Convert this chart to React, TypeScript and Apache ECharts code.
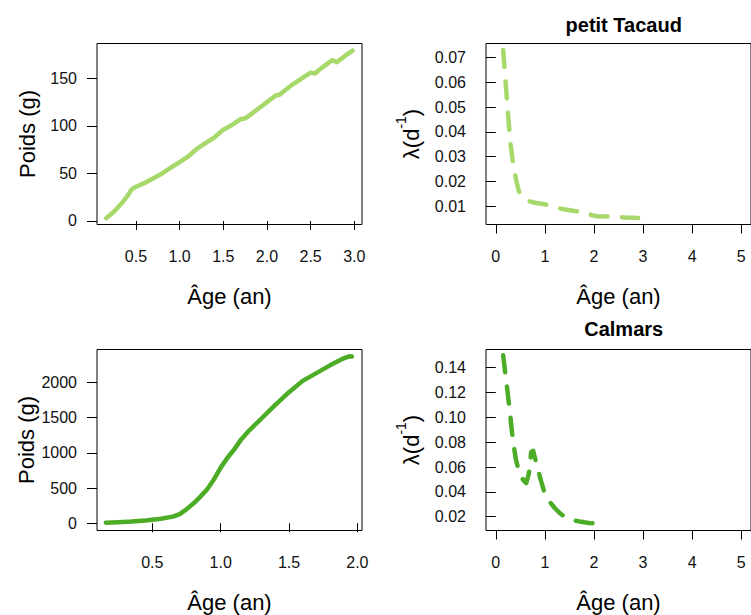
import React, { useEffect, useRef } from "react";
import * as echarts from "echarts";

// ---- Data ----
const tacaudAge = [0.16, 0.2, 0.25, 0.3, 0.35, 0.4, 0.45, 0.5, 0.6, 0.7, 0.8, 0.9, 1.0, 1.1, 1.2, 1.3, 1.4, 1.5, 1.6, 1.7, 1.75, 1.8, 1.9, 2.0, 2.1, 2.15, 2.2, 2.3, 2.4, 2.5, 2.55, 2.6, 2.7, 2.75, 2.8, 2.9, 2.98];
const tacaudWeight = [3, 6, 10, 15, 20, 26, 33, 36, 40, 45, 50, 56, 62, 68, 76, 82, 88, 96, 101, 107, 108, 111, 118, 125, 132, 133, 137, 144, 150, 156, 155, 159, 166, 169, 167, 174, 179];

const tacaudLambdaAge = [0.15, 0.17, 0.2, 0.23, 0.27, 0.3, 0.34, 0.38, 0.42, 0.47, 0.53, 0.6, 0.7, 0.8, 0.9, 1.0, 1.1, 1.2, 1.3, 1.45, 1.6, 1.75, 1.85, 1.95, 2.05, 2.3, 2.6, 2.9];
const tacaudLambda = [0.0731, 0.068, 0.06, 0.052, 0.042, 0.035, 0.029, 0.024, 0.02, 0.016, 0.014, 0.0128, 0.0118, 0.0113, 0.011, 0.0107, 0.0102, 0.0095, 0.009, 0.0085, 0.008, 0.0078, 0.0075, 0.0063, 0.0059, 0.0057, 0.0054, 0.0052];

const calmarAge = [0.16, 0.25, 0.35, 0.45, 0.55, 0.65, 0.7, 0.75, 0.8, 0.85, 0.9, 0.95, 1.0, 1.05, 1.1, 1.15, 1.2, 1.3, 1.4, 1.5, 1.6, 1.7, 1.8, 1.9, 1.94, 1.96];
const calmarWeight = [8, 15, 25, 40, 60, 95, 130, 200, 280, 375, 480, 620, 790, 930, 1050, 1190, 1300, 1490, 1680, 1860, 2020, 2130, 2240, 2340, 2368, 2365];

const calmarLambdaAge = [0.15, 0.18, 0.21, 0.25, 0.29, 0.33, 0.37, 0.41, 0.46, 0.52, 0.57, 0.62, 0.66, 0.69, 0.72, 0.76, 0.8, 0.86, 0.92, 0.98, 1.05, 1.12, 1.2, 1.3, 1.4, 1.5, 1.6, 1.7, 1.8, 1.9, 1.97];
const calmarLambda = [0.15, 0.14, 0.13, 0.117, 0.103, 0.088, 0.076, 0.066, 0.058, 0.052, 0.049, 0.047, 0.053, 0.058, 0.072, 0.073, 0.067, 0.058, 0.049, 0.041, 0.036, 0.031, 0.027, 0.023, 0.02, 0.018, 0.017, 0.0162, 0.0155, 0.015, 0.0148];

const ticksX1 = [0.5, 1.0, 1.5, 2.0, 2.5, 3.0];
const ticksY1 = [0, 50, 100, 150];
const ticksXLambda = [0, 1, 2, 3, 4, 5];
const ticksY2 = [0.01, 0.02, 0.03, 0.04, 0.05, 0.06, 0.07];
const ticksX3 = [0.5, 1.0, 1.5, 2.0];
const ticksY3 = [0, 500, 1000, 1500, 2000];
const ticksY4 = [0.02, 0.04, 0.06, 0.08, 0.1, 0.12, 0.14];

const titles = ["petit Tacaud", "Calmars"];
const xName = "Âge (an)";
const yNameWeight = "Poids (g)";

const LIGHT = "#A6D96A";
const DARK = "#4DAC26";
const FONT = "'Liberation Sans', Arial, Helvetica, sans-serif";

const zip = (a: number[], b: number[]) => a.map((v, i) => [v, b[i]]);

export default function App() {
  const ref = useRef<HTMLDivElement>(null);
  useEffect(() => {
    if (!ref.current) return;
    const chart = echarts.init(ref.current, undefined, { renderer: "svg" });

    const grids = [
      { left: 97, top: 43.5, width: 265, height: 181 },
      { left: 486, top: 43.5, width: 265.5, height: 181 },
      { left: 97, top: 349.5, width: 265, height: 181 },
      { left: 486, top: 349.5, width: 265.5, height: 181 },
    ].map((g) => ({ ...g, show: true, borderColor: "#000", borderWidth: 1, backgroundColor: "transparent", containLabel: false }));

    const mkX = (gi: number, min: number, max: number, ticks: number[], fmt: (v: number) => string) => ({
      type: "value",
      gridIndex: gi,
      min,
      max,
      name: xName,
      nameLocation: "middle",
      nameGap: 61,
      nameTextStyle: { fontFamily: FONT, fontSize: 22, color: "#000" },
      axisLine: { show: false },
      splitLine: { show: false },
      axisTick: { show: true, length: 9, customValues: ticks, lineStyle: { color: "#000", width: 1 } },
      axisLabel: { customValues: ticks, formatter: fmt, fontFamily: FONT, fontSize: 16, color: "#111", margin: 24 },
    });

    const mkY = (gi: number, min: number, max: number, ticks: number[], fmt: (v: number) => string, name: string, gap: number, lambda: boolean) => ({
      type: "value",
      gridIndex: gi,
      min,
      max,
      name,
      nameLocation: "middle",
      nameRotate: 90,
      nameGap: gap,
      nameTextStyle: lambda
        ? {
            fontFamily: FONT,
            color: "#000",
            rich: {
              a: { fontFamily: FONT, fontSize: 22, lineHeight: 28, color: "#000", verticalAlign: "bottom" },
              s: { fontFamily: FONT, fontSize: 14, lineHeight: 28, color: "#000", verticalAlign: "top" },
            },
          }
        : { fontFamily: FONT, fontSize: 22, color: "#000" },
      axisLine: { show: false },
      splitLine: { show: false },
      axisTick: { show: true, length: 10, customValues: ticks, lineStyle: { color: "#000", width: 1 } },
      axisLabel: { customValues: ticks, formatter: fmt, fontFamily: FONT, fontSize: 16, color: "#111", margin: 20 },
    });

    const f1 = (v: number) => v.toFixed(1);
    const f0 = (v: number) => String(Math.round(v));
    const f2 = (v: number) => v.toFixed(2);
    const lambdaName = "{a|λ(d}{s|-1}{a|)}";

    const lineSeries = (gi: number, data: number[][], color: string, dashed: boolean) => ({
      type: "line",
      xAxisIndex: gi,
      yAxisIndex: gi,
      data,
      showSymbol: false,
      symbol: "none",
      smooth: false,
      clip: true,
      lineStyle: {
        color,
        width: 4.5,
        cap: "round",
        join: "round",
        type: dashed ? [17, 14.5] : "solid",
      },
    });

    chart.setOption({
      animation: false,
      backgroundColor: "#fff",
      title: [
        { text: titles[0], left: 618.7, top: 10, textAlign: "center", textStyle: { fontFamily: FONT, fontSize: 20, fontWeight: "bold", color: "#000" } },
        { text: titles[1], left: 618.7, top: 313.5, textAlign: "center", textStyle: { fontFamily: FONT, fontSize: 20, fontWeight: "bold", color: "#000" } },
      ],
      grid: grids,
      xAxis: [
        mkX(0, 0.054, 3.088, ticksX1, f1),
        mkX(1, -0.2, 5.2, ticksXLambda, f0),
        mkX(2, 0.095, 2.034, ticksX3, f1),
        mkX(3, -0.2, 5.2, ticksXLambda, f0),
      ],
      yAxis: [
        mkY(0, -3.7, 186.6, ticksY1, f0, yNameWeight, 59, false),
        mkY(1, 0.00252, 0.07574, ticksY2, f2, lambdaName, 64, true),
        mkY(2, -102, 2465, ticksY3, f0, yNameWeight, 59, false),
        mkY(3, 0.00888, 0.15466, ticksY4, f2, lambdaName, 64, true),
      ],
      series: [
        lineSeries(0, zip(tacaudAge, tacaudWeight), LIGHT, false),
        lineSeries(1, zip(tacaudLambdaAge, tacaudLambda), LIGHT, true),
        lineSeries(2, zip(calmarAge, calmarWeight), DARK, false),
        lineSeries(3, zip(calmarLambdaAge, calmarLambda), DARK, true),
      ],
    });
    return () => chart.dispose();
  }, []);
  return <div ref={ref} style={{ position: "fixed", left: 0, top: 0, width: 751, height: 615 }} />;
}
